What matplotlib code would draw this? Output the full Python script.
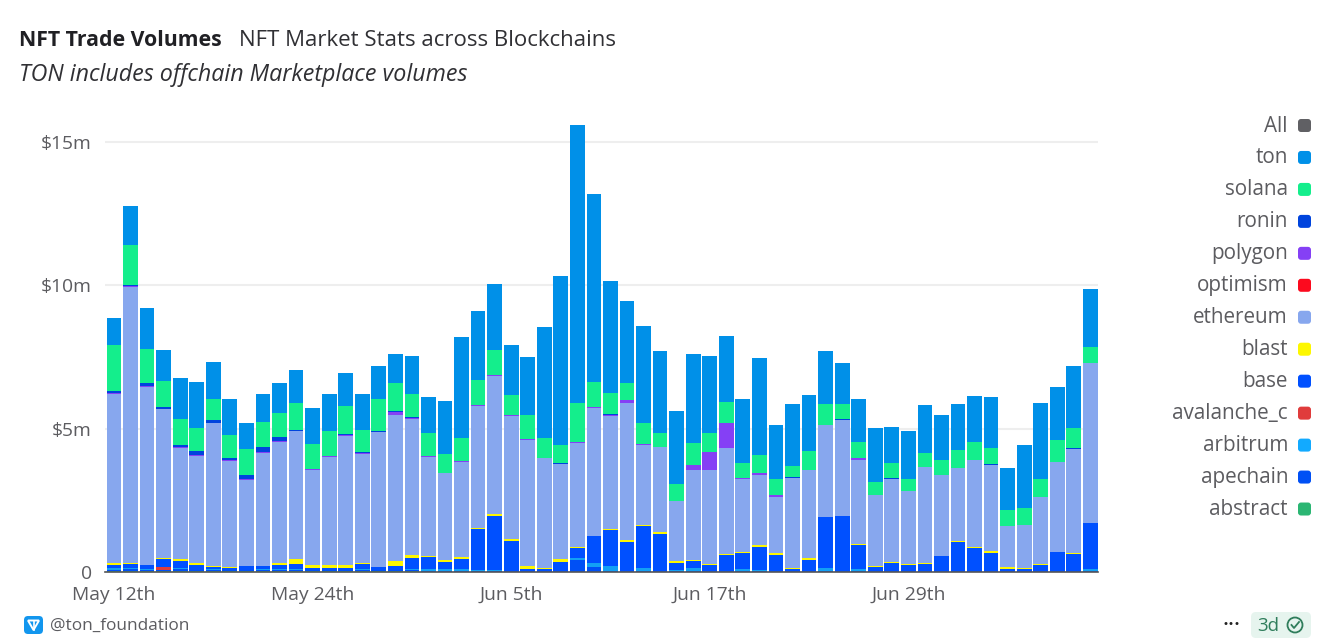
import matplotlib
matplotlib.use("Agg")
import numpy as np
import matplotlib.pyplot as plt
from matplotlib.patches import FancyBboxPatch, Circle, Polygon

W, H = 1322, 641
FONT = "Open Sans"
GREY = "#5c5c60"

tick_positions = [0, 12, 24, 36, 48]
tick_labels = ["May 12th", "May 24th", "Jun 5th", "Jun 17th", "Jun 29th"]
y_ticks = [0, 5, 10, 15]
y_labels = ["0", "$5m", "$10m", "$15m"]

# values in $m, one per day
abstract = [.03] * 19 + [.01] * 41
apechain = [.05, .07, .04, .03, .06, .03, .04, .03, .03, .04, .03, .03, .03, .03, .03,
            .03, .03, .03, .03, .02, .02, .02, .02, .02, .02, .02, .02, .02, .42, .15,
            .02, .02, .02, .02, .04, .03, .03, .02, .02, .02, .02, .02, .02, .02, .02,
            .02, .02, .02, .02, .02, .02, .02, .02, .02, .02, .02, .02, .02, .02, .02]
arbitrum = [.05, .04, .03, .02, .06, .02, .02, .02, .02, .05, .03, .03, .02, .02, .02,
            .03, .02, .02, .03, .09, .07, .06, .03, .05, .01, .01, .01, .01, .07, .16,
            .17, .01, .10, .01, .01, .10, .01, .01, .06, .03, .01, .01, .01, .10, .02,
            .06, .01, .01, .01, .01, .01, .01, .01, .01, .01, .01, .01, .01, .01, .09]
avalanche_c = [0, 0, 0, .09] + [0] * 56
base = [.11, .14, .13, .28, .23, .16, .09, .07, .13, .08, .15, .19, .06, .06, .07,
        .20, .09, .13, .40, .39, .25, .38, 1.45, 1.87, 1.05, .08, .06, .32, .33, .94,
        1.28, 1.01, 1.46, 1.30, .27, .23, .20, .56, .56, .81, .54, .05, .38, 1.79, 1.89,
        .84, .12, .27, .19, .24, .51, 1.02, .80, .62, .08, .05, .20, .66, .59, 1.59]
blast = [.06, .02, .01, .05, .07, .07, .04, .02, .01, .01, .08, .17, .10, .10, .09,
         .03, .01, .17, .10, .06, .07, .04, .01, .07, .05, .09, .05, .09, .05, .01,
         .01, .06, .05, .07, .05, .05, .02, .02, .06, .07, .07, .04, .06, .01, .01,
         .05, .06, .05, .04, .04, .02, .03, .04, .07, .05, .04, .05, .01, .02, .01]
ethereum = [5.92, 9.63, 6.23, 5.17, 3.89, 3.75, 4.97, 3.71, 3.00, 3.94, 4.23, 4.46, 3.32, 3.77, 4.52,
            3.80, 4.70, 5.11, 4.75, 3.45, 3.02, 3.34, 4.28, 4.83, 4.31, 4.41, 3.81, 3.32, 3.63, 4.45,
            3.94, 4.79, 2.80, 2.95, 2.08, 3.15, 3.28, 3.71, 2.52, 2.43, 1.95, 3.16, 3.07, 3.19, 3.35,
            2.92, 2.47, 2.90, 2.56, 3.34, 2.82, 2.54, 3.01, 3.01, 1.43, 1.51, 2.31, 3.12, 3.65, 5.56]
optimism = [0] * 60
polygon = [.02, .03, .03, .02, .02, .02, .02, .02, .02, .02, .02, .02, .02, .02, .02,
           .02, .02, .09, .04, .02, .01, .01, .01, .01, .01, .02, .01, .01, .02, .02,
           .06, .09, .02, 0, 0, .15, .62, .85, .05, .08, .07, 0, 0, 0, .01,
           .06, 0, 0, 0, 0, 0, 0, 0, 0, 0, 0, 0, 0, 0, 0]
ronin = [.07, .05, .09, .08, .07, .14, .09, .08, .14, .18, .13, .02, .02, .02, .02,
         .03, .02, .03, .03, .02, .02, .02] + [.01] * 38
solana = [1.60, 1.40, 1.19, .90, .91, .79, .73, .79, .91, .88, .85, .95, .85, .87, 1.00,
          .80, 1.10, .99, .79, .78, .64, .80, .87, .87, .71, .82, .71, .63, 1.34, .86,
          .75, .60, .72, .49, .59, .76, .68, .73, .50, .62, .58, .40, .66, .74, .54,
          .57, .45, .53, .41, .47, .49, .62, .65, .59, .54, .57, .63, .76, .71, .57]
ton = [.95, 1.37, 1.43, 1.06, 1.44, 1.61, 1.30, 1.26, .91, .98, 1.04, 1.14, 1.28, 1.28, 1.15,
       1.23, 1.16, .99, 1.33, 1.28, 1.85, 3.50, 2.42, 2.30, 1.74, 2.04, 3.85, 5.92, 9.72, 6.58,
       3.90, 2.86, 3.39, 2.85, 2.55, 3.10, 2.69, 2.32, 2.23, 3.39, 1.85, 2.15, 1.96, 1.84, 1.44,
       1.49, 1.87, 1.27, 1.68, 1.68, 1.58, 1.60, 1.59, 1.75, 1.49, 2.21, 2.67, 1.85, 2.16, 2.01]

# bottom to top
stack = [
    (abstract, "#2bb673"), (apechain, "#0050f5"), (arbitrum, "#12a0f5"),
    (avalanche_c, "#e03c3c"), (base, "#0050ff"), (blast, "#fdf700"),
    (ethereum, "#87a7ee"), (optimism, "#fc0a1e"), (polygon, "#8540f5"),
    (ronin, "#0044dd"), (solana, "#14ee8c"), (ton, "#0090e8"),
]

legend_names = ["All", "ton", "solana", "ronin", "polygon", "optimism", "ethereum",
                "blast", "base", "avalanche_c", "arbitrum", "apechain", "abstract"]
legend_colors = ["#606064", "#0090e8", "#14ee8c", "#0044dd", "#8540f5", "#fc0a1e", "#87a7ee",
                 "#fdf700", "#0050ff", "#e03c3c", "#12aaff", "#0050f5", "#2bb673"]

plt.rcParams["font.family"] = [FONT, "DejaVu Sans"]
fig = plt.figure(figsize=(W / 100, H / 100), dpi=100, facecolor="white")

# plot area in pixels: x 105..1098, zero at y=572, 28.67 px per $m
ax = fig.add_axes([105 / W, 1 - 572 / H, 993 / W, 457 / H])
ax.set_xlim(-0.544, 59.46)
ax.set_ylim(0, 457 / 28.67)
ax.patch.set_alpha(0)

x = np.arange(60)
bottom = np.zeros(60)
for values, color in stack:
    values = np.array(values, dtype=float)
    ax.bar(x, values, width=0.89, bottom=bottom, color=color, linewidth=0, zorder=3)
    bottom += values

for s in ["top", "right", "left"]:
    ax.spines[s].set_visible(False)
ax.spines["bottom"].set_color("#555558")
ax.spines["bottom"].set_linewidth(1.2)
ax.spines["bottom"].set_zorder(5)
ax.grid(axis="y", color="#eeeeee", linewidth=1.5, zorder=0)
ax.set_axisbelow(True)

ax.set_xticks(tick_positions, tick_labels)
ax.set_yticks(y_ticks, y_labels)
ax.tick_params(axis="x", length=0, pad=10, labelsize=13.9, labelcolor=GREY)
ax.tick_params(axis="y", length=0, pad=9.5, labelsize=13.9, labelcolor=GREY)

# everything outside the plot is placed in pixels
ov = fig.add_axes([0, 0, 1, 1])
ov.set_xlim(0, W)
ov.set_ylim(H, 0)
ov.axis("off")
ov.patch.set_alpha(0)

ov.text(19, 41, "NFT Trade Volumes", fontsize=15.3, fontweight="bold", color="#202024", va="center")
ov.text(239, 41, "NFT Market Stats across Blockchains", fontsize=16, color="#303034", va="center")
ov.text(19, 75, "TON includes offchain Marketplace volumes", fontsize=16.75, style="italic",
        color="#303034", va="center")

for i, (name, color) in enumerate(zip(legend_names, legend_colors)):
    y = 125 + i * 31.96
    ov.text(1288, y + 1, name, fontsize=14.9, color=GREY, ha="right", va="center")
    ov.add_patch(FancyBboxPatch((1298, y - 6), 13, 13, boxstyle="round,pad=0,rounding_size=3",
                                facecolor=color, edgecolor="none"))

# ton logo and handle
ov.add_patch(FancyBboxPatch((24, 616), 19, 18, boxstyle="round,pad=0,rounding_size=4",
                            facecolor="#1296ee", edgecolor="none"))
ov.add_patch(Polygon([[28, 620.5], [39, 620.5], [33.5, 630]], closed=True, fill=False,
                     edgecolor="white", linewidth=1.4))
ov.plot([33.5, 33.5], [620.5, 630], color="white", linewidth=1.2)
ov.text(50, 626, "@ton_foundation", fontsize=12.4, color=GREY, va="center")

# freshness badge
ov.text(1231, 624, "•••", fontsize=7.5, color="#222222", ha="center", va="center", family="DejaVu Sans")
ov.add_patch(FancyBboxPatch((1251, 612), 60, 26, boxstyle="round,pad=0,rounding_size=5",
                            facecolor="#e6f4ee", edgecolor="none"))
ov.text(1268, 626, "3d", fontsize=13.5, color="#2f7d5b", ha="center", va="center")
ov.add_patch(Circle((1295, 625), 7.5, fill=False, edgecolor="#2f7d5b", linewidth=1.3))
ov.plot([1291.5, 1294, 1299], [625, 628, 622], color="#2f7d5b", linewidth=1.3)

fig.savefig("out.png", dpi=100)
